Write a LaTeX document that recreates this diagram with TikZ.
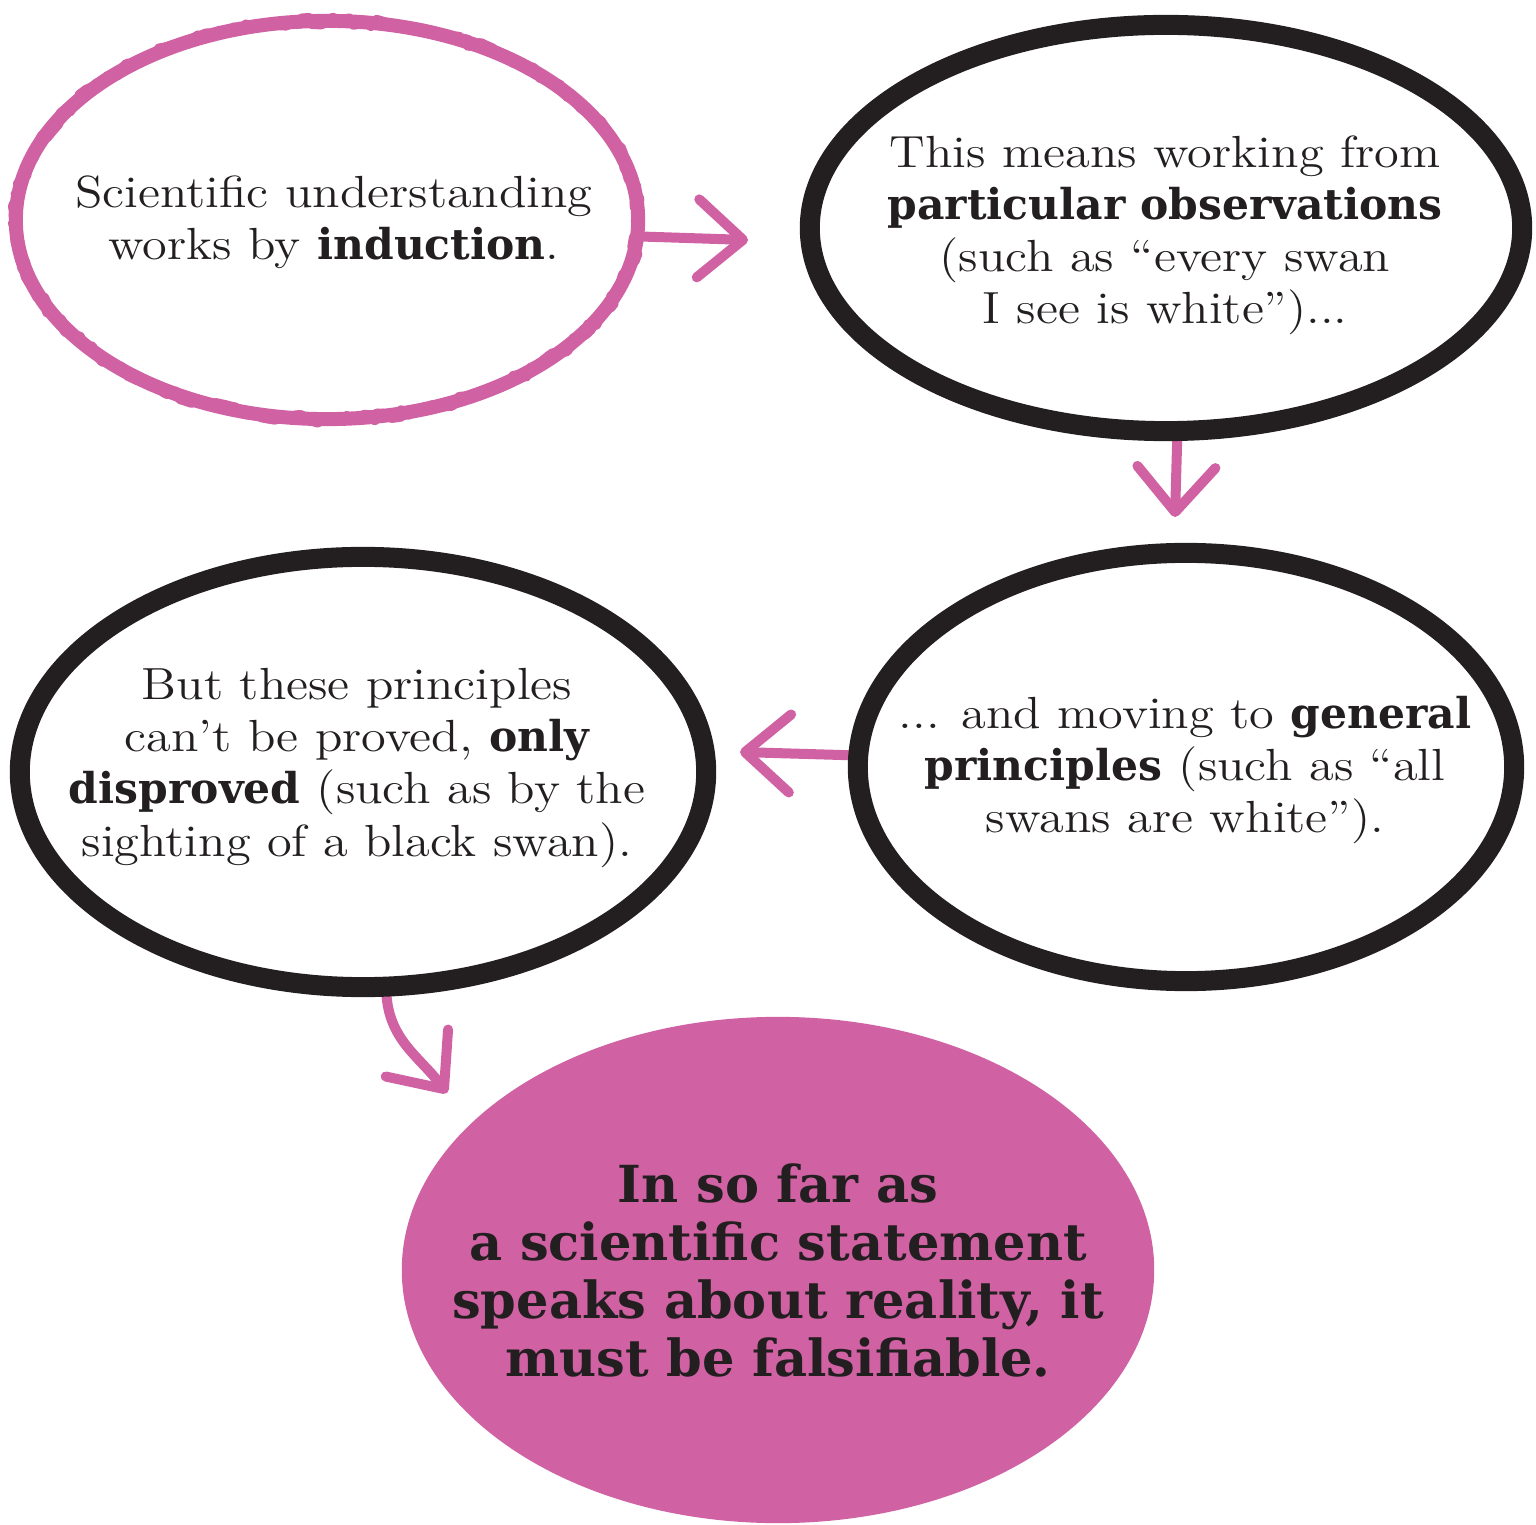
\documentclass[tikz,border=0pt]{standalone}
\usepackage{fontspec}
\setmainfont{Latin Modern Roman}[FakeStretch=1.12]
\newfontfamily\heavy{DejaVu Serif}[Scale=0.943]
\usetikzlibrary{shapes.geometric,arrows.meta,decorations.pathmorphing}
\definecolor{inkpink}{RGB}{208,98,164}
\definecolor{ink}{RGB}{35,31,32}
\newcommand\hv[1]{{\heavy\bfseries #1}}
\pgfdeclarelayer{under}
\pgfsetlayers{under,main}
\begin{document}
\begin{tikzpicture}[x=0.01cm,y=-0.01cm,
  ring/.style={ellipse, inner sep=0pt, draw=#1, line join=round,
    postaction={draw=#1, line width=0.1cm, line join=round, line cap=round, decorate,
      decoration={random steps, segment length=0.06cm, amplitude=0.035cm}}},
  pinkring/.style={ring=inkpink, line width=0.14cm},
  blackring/.style={ring=ink, line width=0.2cm},
  blurb/.style={align=center, text=ink, font=\fontsize{12.8}{14.8}\selectfont},
  flow/.style={draw=inkpink, line width=0.1cm, line cap=round,
    -{Straight Barb[length=0.45cm, width=0.78cm, round]}},
]
\useasboundingbox (0,0) rectangle (1536,1525);

% thought bubbles
\node[pinkring, minimum width=6.22cm, minimum height=3.98cm] (e1) at (327,220) {};
\node[blackring, minimum width=7.12cm, minimum height=4.06cm] (e2) at (1166,228) {};
\node[blackring, minimum width=6.56cm, minimum height=4.28cm] (e3) at (1186,767) {};
\node[blackring, minimum width=6.86cm, minimum height=4.30cm] (e4) at (363,772) {};
\node[ellipse, inner sep=0pt, fill=inkpink, minimum width=7.52cm, minimum height=5.06cm] (e5) at (778,1270) {};

% texts
\node[blurb] (x1) at (334,222) {Scientific understanding\\works by \hv{induction}.};
\node[blurb] (x2) at (1165,235) {This means working from\\\hv{particular observations}\\(such as “every swan\\I see is white”)...};
\node[blurb] (x3) at (1185,770) {... and moving to \hv{general}\\\hv{principles} (such as “all\\swans are white”).};
\node[blurb] (x4) at (357,768) {But these principles\\can’t be proved, \hv{only}\\\hv{disproved} (such as by the\\sighting of a black swan).};
\node[align=center, text=ink, font=\fontsize{15.4}{16.5}\selectfont\heavy\bfseries] (x5) at (778,1270)
  {In so far as\\a scientific statement\\speaks about reality, it\\must be falsifiable.};

% arrow tips
\coordinate (t1) at (748,240);
\coordinate (t2) at (1175,517);
\coordinate (t3) at (740,752);
\coordinate (t4) at (447,1093);

\begin{pgfonlayer}{under}
\draw[flow] (e1.-3) -- (t1);
\draw[flow] (e2.-87.5) -- (t2);
\draw[flow] (e3.178) -- (t3);
\draw[flow] (e4.-84) to[out=-85, in=127] (t4);
\end{pgfonlayer}
\end{tikzpicture}
\end{document}
